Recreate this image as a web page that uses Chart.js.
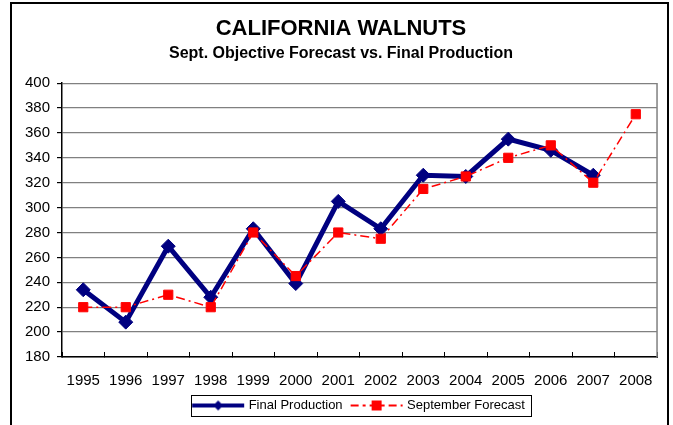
<!DOCTYPE html>
<html>
<head>
<meta charset="utf-8">
<script src="https://cdn.jsdelivr.net/npm/chart.js@4/dist/chart.umd.min.js"></script>
<style>
  body { margin: 0; background: #fff; }
  #frame { position: absolute; left: 10px; top: 2px; width: 655px; height: 500px; border: 2px solid #000; }
  #wrap { position: absolute; left: 0; top: 0; width: 673px; height: 425px; }
</style>
</head>
<body>
<div id="frame"></div>
<div id="wrap"><canvas id="myChart" width="673" height="425"></canvas></div>
<script>
const years = ["1995", "1996", "1997", "1998", "1999", "2000", "2001", "2002", "2003", "2004", "2005", "2006", "2007", "2008"];
const finalProduction = [234, 208, 269, 228, 283, 239, 305, 283, 326, 325, 355, 346, 326, null];
const septForecast = [220, 220, 230, 220, 280, 245, 280, 275, 315, 325, 340, 350, 320, 375];
const yTicks = [180, 200, 220, 240, 260, 280, 300, 320, 340, 360, 380, 400];

const fontFamily = '"Liberation Sans", Arial, sans-serif';

// legend samples: line with the marker in the middle
function legendSample(color, width, dash, marker) {
    let c = document.createElement('canvas');
    c.width = 54;
    c.height = 14;
    let g = c.getContext('2d');
    g.strokeStyle = color;
    g.lineWidth = width;
    g.setLineDash(dash);
    g.beginPath();
    g.moveTo(1, 7);
    g.lineTo(53, 7);
    g.stroke();
    g.fillStyle = color;
    if (marker === 'diamond') {
        g.beginPath();
        g.moveTo(27, 2);
        g.lineTo(32, 7);
        g.lineTo(27, 12);
        g.lineTo(22, 7);
        g.closePath();
        g.fill();
    } else {
        g.fillRect(22, 2, 10, 10);
    }
    return c;
}

const frameBits = {
    id: 'frameBits',
    beforeDatasetsDraw(chart) {
        let ctx = chart.ctx;
        let a = chart.chartArea;
        ctx.save();
        ctx.strokeStyle = '#808080';
        ctx.lineWidth = 1.5;
        ctx.beginPath();
        ctx.moveTo(a.right, a.top);
        ctx.lineTo(a.right, a.bottom);
        ctx.stroke();
        ctx.restore();
    },
    afterDraw(chart) {
        let boxes = chart.legend.legendHitBoxes;
        if (!boxes || !boxes.length) return;
        let first = boxes[0];
        let last = boxes[boxes.length - 1];
        let left = first.left - 3;
        let right = last.left + last.width + 6;
        let cy = first.top + first.height / 2;
        let ctx = chart.ctx;
        ctx.save();
        ctx.strokeStyle = '#000';
        ctx.lineWidth = 1;
        ctx.strokeRect(Math.round(left) + 0.5, Math.round(cy - 11) + 0.5, Math.round(right - left), 21);
        ctx.restore();
    }
};

const ctx = document.getElementById('myChart').getContext('2d');
new Chart(ctx, {
    type: 'line',
    data: {
        labels: years,
        datasets: [{
            label: 'Final Production',
            data: finalProduction,
            borderColor: '#000080',
            backgroundColor: '#000080',
            borderWidth: 5,
            pointStyle: 'rectRot',
            pointRadius: 7,
            pointBorderWidth: 1,
            pointBackgroundColor: '#000080',
            pointBorderColor: '#000080',
            tension: 0,
            order: 2
        }, {
            label: 'September Forecast',
            data: septForecast,
            borderColor: '#ff0000',
            backgroundColor: '#ff0000',
            borderWidth: 1.5,
            borderDash: [9, 4, 2, 4],
            pointStyle: 'rect',
            pointRadius: 6.5,
            pointBorderWidth: 1,
            pointBackgroundColor: '#ff0000',
            pointBorderColor: '#ff0000',
            tension: 0,
            order: 1
        }]
    },
    options: {
        responsive: false,
        animation: false,
        layout: {
            padding: { top: 0, left: 24, right: 15, bottom: 3 }
        },
        plugins: {
            title: {
                display: true,
                text: 'CALIFORNIA WALNUTS',
                color: '#000',
                font: { family: fontFamily, size: 22, weight: 'bold' },
                padding: { top: 16, bottom: 0 }
            },
            subtitle: {
                display: true,
                text: 'Sept. Objective Forecast vs. Final Production',
                color: '#000',
                font: { family: fontFamily, size: 16, weight: 'bold' },
                padding: { top: 1.5, bottom: 20 }
            },
            legend: {
                position: 'bottom',
                fullSize: false,
                labels: {
                    usePointStyle: true,
                    pointStyleWidth: 48,
                    padding: 10,
                    color: '#000',
                    font: { family: fontFamily, size: 13 },
                    generateLabels: function (chart) {
                        return [{
                            text: 'Final Production',
                            pointStyle: legendSample('#000080', 4, [], 'diamond'),
                            fillStyle: '#000080',
                            strokeStyle: '#000080',
                            lineWidth: 0,
                            datasetIndex: 0
                        }, {
                            text: 'September Forecast',
                            pointStyle: legendSample('#ff0000', 2, [8, 4, 3, 4], 'square'),
                            fillStyle: '#ff0000',
                            strokeStyle: '#ff0000',
                            lineWidth: 0,
                            datasetIndex: 1
                        }];
                    }
                }
            },
            tooltip: { enabled: false }
        },
        scales: {
            x: {
                offset: true,
                grid: {
                    offset: true,
                    drawOnChartArea: false,
                    drawTicks: true,
                    tickLength: -5,
                    tickColor: '#000'
                },
                border: { color: '#000', width: 1.5 },
                ticks: {
                    color: '#000',
                    padding: 20,
                    maxRotation: 0,
                    autoSkip: false,
                    font: { family: fontFamily, size: 15 }
                },
                afterFit: function (scale) {
                    scale.height = 32;
                }
            },
            y: {
                min: 180,
                max: 400,
                afterBuildTicks: function (scale) {
                    scale.ticks = yTicks.map(v => ({ value: v }));
                },
                grid: {
                    color: '#808080',
                    lineWidth: 1.2,
                    tickLength: 5,
                    tickColor: '#000'
                },
                border: { color: '#000', width: 1.5 },
                ticks: {
                    color: '#000',
                    padding: 7,
                    font: { family: fontFamily, size: 15 }
                },
                afterFit: function (scale) {
                    scale.width = 38;
                }
            }
        }
    },
    plugins: [frameBits]
});
</script>
</body>
</html>
